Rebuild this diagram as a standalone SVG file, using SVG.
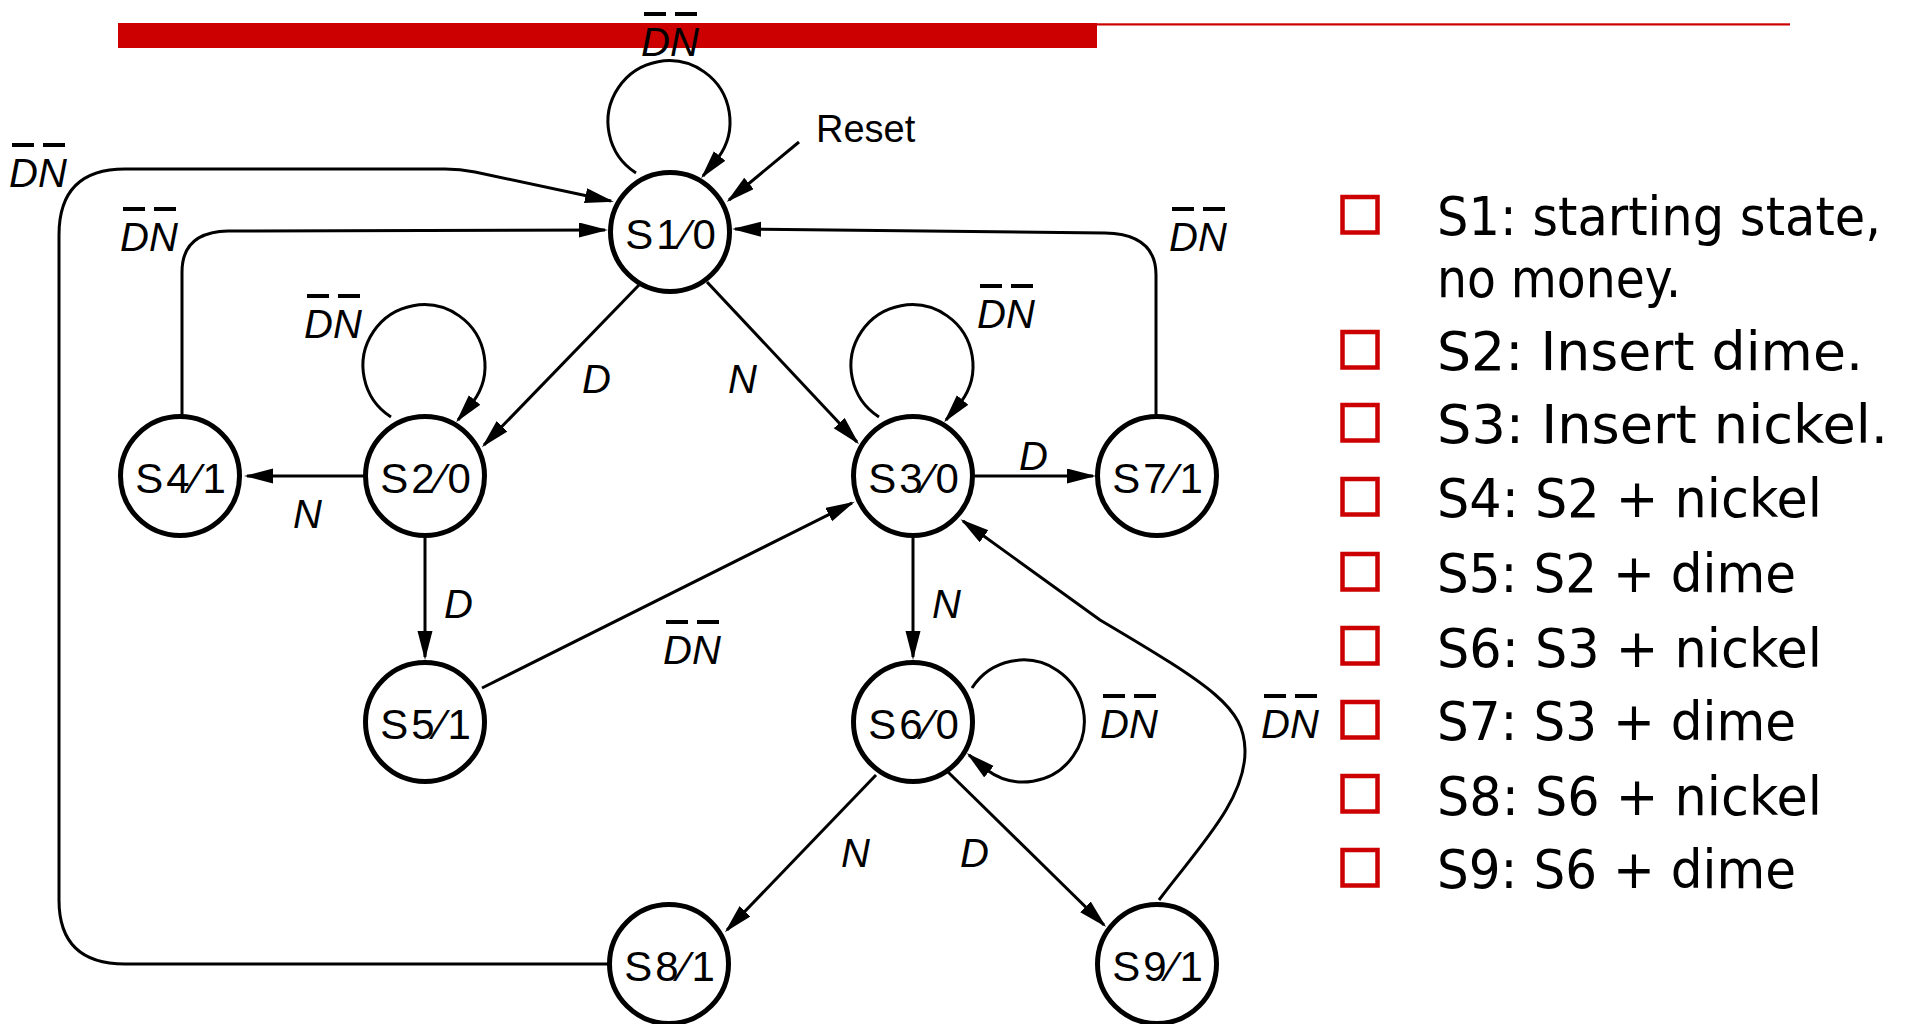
<svg xmlns="http://www.w3.org/2000/svg" xmlns:xlink="http://www.w3.org/1999/xlink" width="1913" height="1024" viewBox="0 0 1913 1024">
  <style>
    .node circle { fill: #ffffff; stroke: #000000; stroke-width: 5; }
    .node text { font-family: "Liberation Sans", Arial, sans-serif; font-size: 42px; text-anchor: middle; letter-spacing: 3px; fill: #000000; }
    .edge { fill: none; stroke: #000000; stroke-width: 3; marker-end: url(#arr); }
    .lbl { font-family: "Liberation Sans", Arial, sans-serif; font-size: 40px; font-style: italic; fill: #000000; }
    .reset { font-family: "Liberation Sans", Arial, sans-serif; font-size: 38px; fill: #000000; }
    .bullet { fill: none; stroke: #cc0000; stroke-width: 4.5; }
    .item { font-family: "DejaVu Sans", "Noto Sans", sans-serif; font-size: 54px; fill: #000000; }
  </style>
  <defs>
    <marker id="arr" markerUnits="userSpaceOnUse" markerWidth="32" markerHeight="16" refX="26" refY="7.5" orient="auto">
      <path d="M0,0 L29,7.5 L0,15 Z" fill="#000000"/>
    </marker>
    <!-- negation bars drawn over the two letters of a "DN" label -->
    <path id="bars" d="M0,-44h22v4h-22z M31,-44h22v4h-22z" fill="#000000"/>
  </defs>

  <!-- header rule -->
  <g id="header">
    <rect x="1097" y="23.3" width="693" height="2.2" fill="#cc0000"/>
    <rect x="118" y="23" width="979" height="25" fill="#cc0000"/>
  </g>

  <!-- transitions -->
  <g id="connectors">
    <!-- self loops: circular arc finished by a short straight lead-in -->
    <path class="edge" d="M636 173 A61 61 0 1 1 718 158 L703 176"/>
    <path class="edge" d="M391 417 A61 61 0 1 1 473 402 L458 420"/>
    <path class="edge" d="M879 417 A61 61 0 1 1 961 402 L946 420"/>
    <path class="edge" d="M972 688 A61 61 0 1 1 987 770 L969 755"/>
    <!-- reset -->
    <path class="edge" d="M799 142 L729 200"/>
    <!-- returns to S1 -->
    <path class="edge" d="M608 964 H125 Q59 964 59 900 V235 Q59 169 125 169 H445 Q460 169 475 172 L611 201"/>
    <path class="edge" d="M182 417 V272 Q182 232 228 231 L605 230"/>
    <path class="edge" d="M1156 414 V275 Q1156 234 1105 233 L735 229"/>
    <!-- coin transitions -->
    <path class="edge" d="M639 285 L484 445"/>
    <path class="edge" d="M707 282 L857 442"/>
    <path class="edge" d="M364 476 L247 476"/>
    <path class="edge" d="M425 538 L425 657"/>
    <path class="edge" d="M975 476 L1093 476"/>
    <path class="edge" d="M913 538 L913 657"/>
    <path class="edge" d="M482 688 L852 503"/>
    <path class="edge" d="M876 775 L727 930"/>
    <path class="edge" d="M948 772 L1104 925"/>
    <path class="edge" d="M1159 900 C1198 848 1246 800 1245 750 C1244 708 1215 688 1100 620 L963 521"/>
  </g>

  <!-- transition labels -->
  <g id="labels">
    <g transform="translate(644,56)"><text class="lbl" x="-3">DN</text><use xlink:href="#bars"/></g>
    <g transform="translate(12,187)"><text class="lbl" x="-3">DN</text><use xlink:href="#bars"/></g>
    <g transform="translate(123,251)"><text class="lbl" x="-3">DN</text><use xlink:href="#bars"/></g>
    <g transform="translate(307,338)"><text class="lbl" x="-3">DN</text><use xlink:href="#bars"/></g>
    <g transform="translate(980,328)"><text class="lbl" x="-3">DN</text><use xlink:href="#bars"/></g>
    <g transform="translate(1172,251)"><text class="lbl" x="-3">DN</text><use xlink:href="#bars"/></g>
    <g transform="translate(666,664)"><text class="lbl" x="-3">DN</text><use xlink:href="#bars"/></g>
    <g transform="translate(1103,738)"><text class="lbl" x="-3">DN</text><use xlink:href="#bars"/></g>
    <g transform="translate(1264,738)"><text class="lbl" x="-3">DN</text><use xlink:href="#bars"/></g>
    <text class="lbl" x="582" y="393">D</text>
    <text class="lbl" x="728" y="393">N</text>
    <text class="lbl" x="293" y="528">N</text>
    <text class="lbl" x="1019" y="470">D</text>
    <text class="lbl" x="444" y="618">D</text>
    <text class="lbl" x="932" y="618">N</text>
    <text class="lbl" x="841" y="867">N</text>
    <text class="lbl" x="960" y="867">D</text>
    <text class="reset" x="816" y="142">Reset</text>
  </g>

  <!-- states -->
  <g id="S1" class="node"><circle cx="670" cy="232" r="59.5"/><text x="672" y="249">S1⁄0</text></g>
  <g id="S2" class="node"><circle cx="425" cy="476" r="59.5"/><text x="427" y="493">S2⁄0</text></g>
  <g id="S3" class="node"><circle cx="913" cy="476" r="59.5"/><text x="915" y="493">S3⁄0</text></g>
  <g id="S4" class="node"><circle cx="180" cy="476" r="59.5"/><text x="182" y="493">S4⁄1</text></g>
  <g id="S5" class="node"><circle cx="425" cy="722" r="59.5"/><text x="427" y="739">S5⁄1</text></g>
  <g id="S6" class="node"><circle cx="913" cy="722" r="59.5"/><text x="915" y="739">S6⁄0</text></g>
  <g id="S7" class="node"><circle cx="1157" cy="476" r="59.5"/><text x="1159" y="493">S7⁄1</text></g>
  <g id="S8" class="node"><circle cx="669" cy="964" r="59.5"/><text x="671" y="981">S8⁄1</text></g>
  <g id="S9" class="node"><circle cx="1157" cy="964" r="59.5"/><text x="1159" y="981">S9⁄1</text></g>

  <!-- state descriptions -->
  <g id="legend">
    <rect class="bullet" x="1342.5" y="197" width="35" height="35.5"/>
    <rect class="bullet" x="1342.5" y="332" width="35" height="35.5"/>
    <rect class="bullet" x="1342.5" y="405" width="35" height="35.5"/>
    <rect class="bullet" x="1342.5" y="479" width="35" height="35.5"/>
    <rect class="bullet" x="1342.5" y="554" width="35" height="35.5"/>
    <rect class="bullet" x="1342.5" y="628" width="35" height="35.5"/>
    <rect class="bullet" x="1342.5" y="702" width="35" height="35.5"/>
    <rect class="bullet" x="1342.5" y="776" width="35" height="35.5"/>
    <rect class="bullet" x="1342.5" y="850" width="35" height="35.5"/>
    <text class="item" x="1437" y="235" font-size="52" textLength="444" lengthAdjust="spacingAndGlyphs">S1: starting state,</text>
    <text class="item" x="1437" y="297" textLength="244" lengthAdjust="spacingAndGlyphs">no money.</text>
    <text class="item" x="1437" y="370" textLength="426" lengthAdjust="spacingAndGlyphs">S2: Insert dime.</text>
    <text class="item" x="1437" y="443" textLength="451" lengthAdjust="spacingAndGlyphs">S3: Insert nickel.</text>
    <text class="item" x="1437" y="517" textLength="385" lengthAdjust="spacingAndGlyphs">S4: S2 + nickel</text>
    <text class="item" x="1437" y="592" textLength="359" lengthAdjust="spacingAndGlyphs">S5: S2 + dime</text>
    <text class="item" x="1437" y="667" textLength="385" lengthAdjust="spacingAndGlyphs">S6: S3 + nickel</text>
    <text class="item" x="1437" y="740" textLength="359" lengthAdjust="spacingAndGlyphs">S7: S3 + dime</text>
    <text class="item" x="1437" y="815" textLength="385" lengthAdjust="spacingAndGlyphs">S8: S6 + nickel</text>
    <text class="item" x="1437" y="888" textLength="359" lengthAdjust="spacingAndGlyphs">S9: S6 + dime</text>
  </g>
</svg>
